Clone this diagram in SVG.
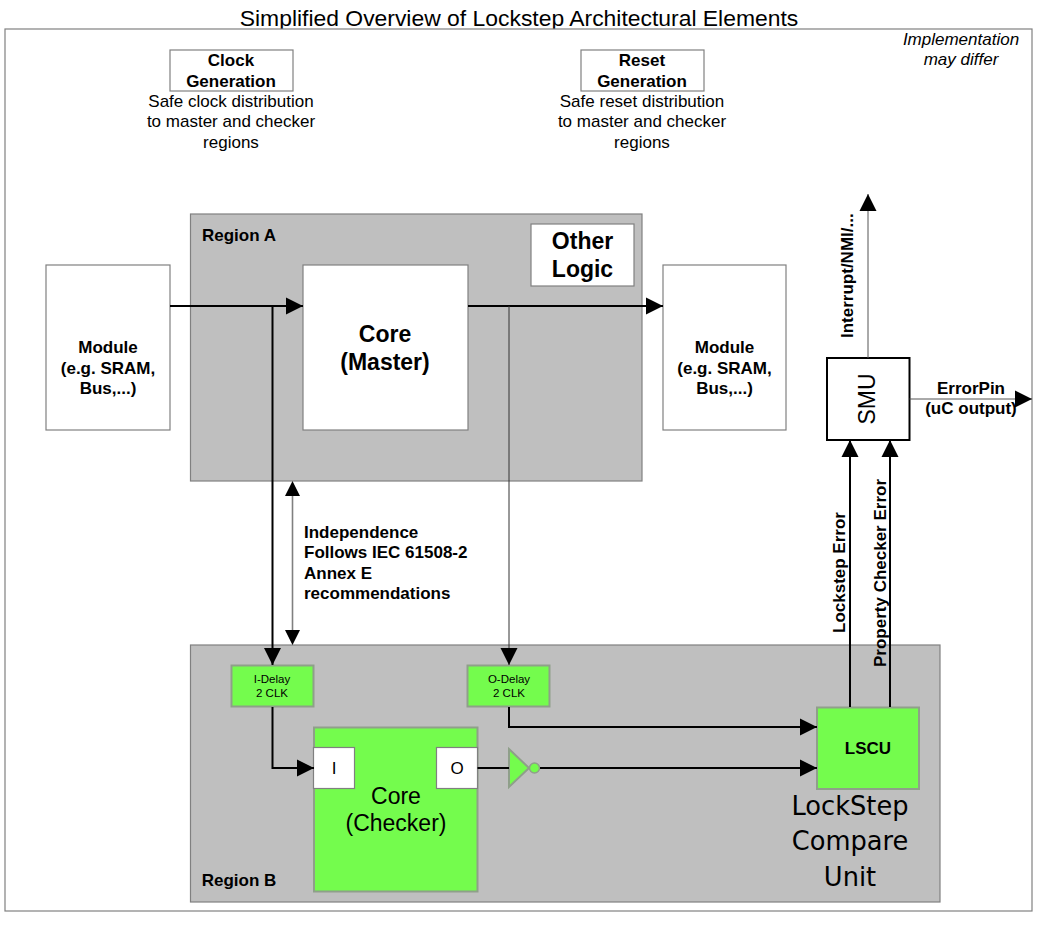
<svg xmlns="http://www.w3.org/2000/svg" width="1054" height="931" viewBox="0 0 1054 931">
<style>
text{font-family:"Liberation Sans",Arial,sans-serif;fill:#000;text-anchor:middle}
.b{font-weight:bold}
.m{font-size:17px}
.l{font-size:23px}
.s{font-size:11.5px}
.box{fill:#fff;stroke:#808080;stroke-width:1.2}
.reg{fill:#bfbfbf;stroke:#808080;stroke-width:1.2}
.grn{fill:#74fc4d;stroke:#8f9f8a;stroke-width:2}
.c{fill:none;stroke:#000;stroke-width:2}
.t{fill:none;stroke:#555;stroke-width:1}
</style>
<defs>
<marker id="a" markerUnits="userSpaceOnUse" markerWidth="18" markerHeight="18" refX="17" refY="9" orient="auto"><path d="M0,0.5L17,9L0,17.5z" fill="#000"/></marker>
</defs>
<rect width="1054" height="931" fill="#fff"/>
<text id="title" x="519" y="26" font-size="22.9">Simplified Overview of Lockstep Architectural Elements</text>
<rect id="frame" x="5" y="29" width="1027" height="882" fill="#fff" stroke="#808080" stroke-width="1.2"/>
<text id="note" class="m" font-style="italic"><tspan x="961" y="45">Implementation</tspan><tspan x="961" y="65">may differ</tspan></text>

<g id="clock">
<rect class="box" x="170" y="50" width="123" height="41"/>
<text class="b m"><tspan x="231" y="65.500">Clock</tspan><tspan x="231" y="86.500">Generation</tspan></text>
<text class="m"><tspan x="231" y="106.500">Safe clock distribution</tspan><tspan x="231" y="127">to master and checker</tspan><tspan x="231" y="147.500">regions</tspan></text>
</g>
<g id="reset">
<rect class="box" x="581" y="50" width="123" height="41"/>
<text class="b m"><tspan x="642" y="65.500">Reset</tspan><tspan x="642" y="86.500">Generation</tspan></text>
<text class="m"><tspan x="642" y="106.500">Safe reset distribution</tspan><tspan x="642" y="127">to master and checker</tspan><tspan x="642" y="147.500">regions</tspan></text>
</g>

<g id="regionA">
<rect class="reg" x="190.500" y="214" width="451.500" height="267"/>
<text class="b m" x="239" y="241">Region A</text>
</g>
<g id="otherLogic">
<rect class="box" x="531" y="224" width="103" height="62"/>
<text class="b l"><tspan x="582.500" y="248.500">Other</tspan><tspan x="582.500" y="276.500">Logic</tspan></text>
</g>
<g id="regionB">
<rect class="reg" x="190.500" y="645" width="749.500" height="257"/>
<text class="b m" x="239" y="885.500">Region B</text>
</g>
<g id="moduleL">
<rect class="box" x="46" y="265" width="124" height="165"/>
<text class="b m"><tspan x="108" y="353">Module</tspan><tspan x="108" y="373.500">(e.g. SRAM,</tspan><tspan x="108" y="394">Bus,...)</tspan></text>
</g>
<g id="coreMaster">
<rect class="box" x="303" y="265" width="165" height="165"/>
<text class="b l"><tspan x="385" y="341.500">Core</tspan><tspan x="385" y="369.500">(Master)</tspan></text>
</g>
<g id="moduleR">
<rect class="box" x="663" y="265" width="123" height="165"/>
<text class="b m"><tspan x="724.500" y="353">Module</tspan><tspan x="724.500" y="373.500">(e.g. SRAM,</tspan><tspan x="724.500" y="394">Bus,...)</tspan></text>
</g>
<g id="iDelay">
<rect class="grn" x="231.500" y="665.500" width="82" height="41"/>
<text class="s"><tspan x="272" y="683">I-Delay</tspan><tspan x="272" y="696.500">2 CLK</tspan></text>
</g>
<g id="oDelay">
<rect class="grn" x="467.500" y="665.500" width="82" height="41"/>
<text class="s"><tspan x="509" y="683">O-Delay</tspan><tspan x="509" y="696.500">2 CLK</tspan></text>
</g>
<g id="coreChecker">
<rect class="grn" x="314" y="727.500" width="163.500" height="164"/>
<text class="l"><tspan x="396" y="803.500">Core</tspan><tspan x="396" y="830.500">(Checker)</tspan></text>
</g>
<g id="portI">
<rect class="box" x="313.500" y="747.500" width="41" height="41"/>
<text class="m" x="334" y="774">I</text>
</g>
<g id="portO">
<rect class="box" x="436.500" y="747.500" width="41" height="41"/>
<text class="m" x="457" y="774">O</text>
</g>
<g id="inverter">
<path d="M509,749L529,768L509,787z" fill="#74fc4d" stroke="#8f9f8a" stroke-width="2"/>
<circle cx="534.500" cy="768" r="5" fill="#74fc4d" stroke="#8f9f8a" stroke-width="1.500"/>
</g>
<g id="lscu">
<rect class="grn" x="817" y="707.500" width="102" height="81.500"/>
<text class="b m" x="868" y="753.500">LSCU</text>
<text style="font-family:'DejaVu Sans',sans-serif;font-size:25.7px"><tspan x="850" y="815">LockStep</tspan><tspan x="850" y="850">Compare</tspan><tspan x="850" y="886">Unit</tspan></text>
</g>
<g id="smu">
<rect x="827" y="358" width="82.500" height="82" fill="#fff" stroke="#000" stroke-width="2"/>
<text class="l" transform="translate(875,399) rotate(-90)">SMU</text>
</g>

<g id="connectors">
<path class="c" d="M170,306H303" marker-end="url(#a)"/>
<path class="c" d="M468,306H663" marker-end="url(#a)"/>
<path class="c" d="M272.500,306V665" marker-end="url(#a)"/>
<path class="t" d="M509,306V665" marker-end="url(#a)" style="stroke:#333"/>
<path d="M292.500,490V636" fill="none" stroke="#808080" stroke-width="1.600"/>
<path d="M292.500,481L300,496H285z M292.500,645L300,630H285z" fill="#000"/>
<path class="c" d="M272.500,707V768H314" marker-end="url(#a)"/>
<path class="c" d="M509,707V727H817" marker-end="url(#a)"/>
<path class="c" d="M477.500,768H509"/>
<path class="c" d="M540,768H817" marker-end="url(#a)"/>
<path class="c" d="M850,707V440" marker-end="url(#a)"/>
<path class="c" d="M890,707V440" marker-end="url(#a)"/>
<path class="t" d="M868,358V194" marker-end="url(#a)"/>
<path class="t" d="M909.500,399H1032" marker-end="url(#a)"/>
</g>

<g id="labels">
<text class="b m" style="text-anchor:start"><tspan x="304" y="538">Independence</tspan><tspan x="304" y="558">Follows IEC 61508-2</tspan><tspan x="304" y="578.500">Annex E</tspan><tspan x="304" y="598.500">recommendations</tspan></text>
<text class="b m" transform="translate(853,338) rotate(-90)" style="text-anchor:start">Interrupt/NMI/...</text>
<text class="b m" transform="translate(845,633) rotate(-90)" style="text-anchor:start">Lockstep Error</text>
<text class="b m" transform="translate(886,667) rotate(-90)" style="text-anchor:start">Property Checker Error</text>
<text class="b m" x="971" y="393.500">ErrorPin</text>
<text class="b m" x="971" y="414">(uC output)</text>
</g>
</svg>
